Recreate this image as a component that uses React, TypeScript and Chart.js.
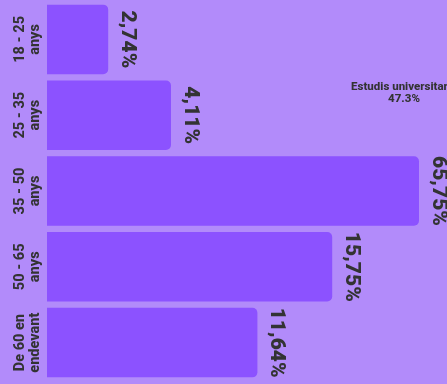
import React, { useEffect, useRef } from "react";
import { Chart, registerables } from "chart.js";

Chart.register(...registerables);

// Categories (two-line tick labels)
const categories: string[][] = [
  ["18 - 25", "anys"],
  ["25 - 35", "anys"],
  ["35 - 50", "anys"],
  ["50 - 65", "anys"],
  ["De 60 en", "endevant"],
];
// Bar lengths (axis 0..100)
const barValues = [15.3, 31, 93, 71.3, 52.6];
// Printed value labels
const valueLabels = ["2,74%", "4,11%", "65,75%", "15,75%", "11,64%"];
// Stray annotation text
const noteLines = ["Estudis universitaris", "47.3%"];
const axisMax = 100;

const BG = "#b28bfa";
const BAR = "#8c52ff";
const TEXT = "#333333";
const FONT = "Roboto, 'Liberation Sans', sans-serif";

export default function App() {
  const ref = useRef<HTMLCanvasElement | null>(null);

  useEffect(() => {
    if (!ref.current) return;
    const labelPlugin = {
      id: "customLabels",
      afterDatasetsDraw(chart: any) {
        const ctx = chart.ctx as CanvasRenderingContext2D;
        const yScale = chart.scales.y;
        const meta = chart.getDatasetMeta(0);
        ctx.save();
        ctx.fillStyle = TEXT;
        // y tick labels, rotated -90
        ctx.font = `800 14.5px ${FONT}`;
        ctx.textAlign = "center";
        ctx.textBaseline = "alphabetic";
        categories.forEach((lines, i) => {
          const yc = yScale.getPixelForValue(i);
          ctx.save();
          ctx.translate(0, yc);
          ctx.rotate(-Math.PI / 2);
          lines.forEach((ln, j) => {
            ctx.fillText(ln, 0, 23.5 + j * 15);
          });
          ctx.restore();
        });
        // value labels, rotated +90
        ctx.font = `900 21px ${FONT}`;
        ctx.textAlign = "center";
        ctx.textBaseline = "middle";
        meta.data.forEach((bar: any, i: number) => {
          ctx.save();
          ctx.translate(bar.x + 19, bar.y);
          ctx.rotate(Math.PI / 2);
          ctx.fillText(valueLabels[i], 0, 0);
          ctx.restore();
        });
        // annotation
        ctx.font = `800 11.5px ${FONT}`;
        ctx.textAlign = "center";
        ctx.textBaseline = "alphabetic";
        noteLines.forEach((ln, j) => {
          ctx.fillText(ln, 404, 90 + j * 11.5);
        });
        ctx.restore();
      },
    };

    const chart = new Chart(ref.current, {
      type: "bar",
      data: {
        labels: categories,
        datasets: [
          {
            data: barValues,
            backgroundColor: BAR,
            borderRadius: 5,
            borderSkipped: "start",
            barPercentage: 0.917,
            categoryPercentage: 1,
          },
        ],
      },
      options: {
        indexAxis: "y",
        responsive: false,
        animation: false,
        layout: { padding: { left: 47, right: 0, top: 1.5, bottom: 3.5 } },
        scales: {
          x: { display: false, min: 0, max: axisMax },
          y: { display: false },
        },
        plugins: {
          legend: { display: false },
          tooltip: { enabled: false },
        },
      },
      plugins: [labelPlugin],
    } as any);
    return () => chart.destroy();
  }, []);

  return (
    <div
      style={{
        position: "fixed",
        left: 0,
        top: 0,
        width: 447,
        height: 384,
        background: BG,
        overflow: "hidden",
      }}
    >
      <canvas ref={ref} width={447} height={384} style={{ display: "block" }} />
    </div>
  );
}
